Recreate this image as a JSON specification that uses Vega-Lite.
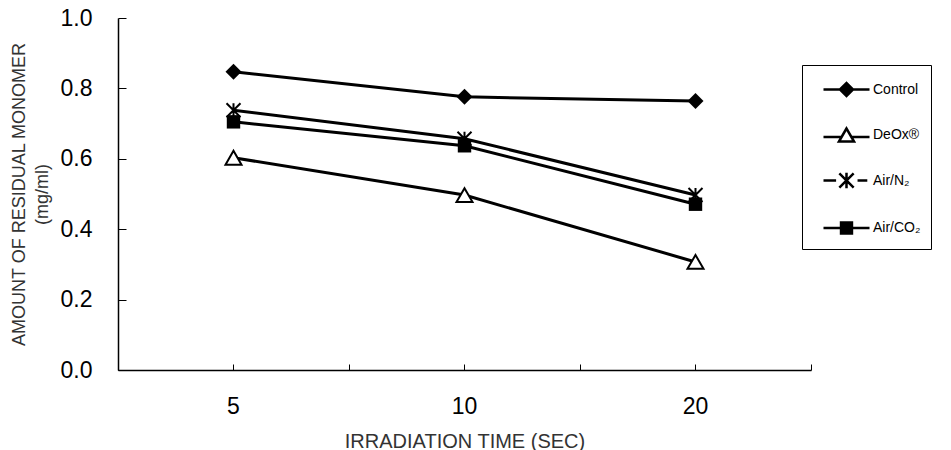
{
  "$schema": "https://vega.github.io/schema/vega-lite/v6.json",
  "width": 693,
  "height": 352,
  "autosize": {"type": "none"},
  "padding": {"left": 118, "top": 18, "right": 140, "bottom": 80},
  "background": "white",
  "config": {"view": {"stroke": null}, "font": "Liberation Sans"},
  "data": {
    "values": [
      {"time": 5, "series": "Control", "value": 0.847},
      {"time": 10, "series": "Control", "value": 0.776},
      {"time": 20, "series": "Control", "value": 0.764},
      {"time": 5, "series": "DeOx®", "value": 0.603},
      {"time": 10, "series": "DeOx®", "value": 0.497},
      {"time": 20, "series": "DeOx®", "value": 0.307},
      {"time": 5, "series": "Air/N₂", "value": 0.738},
      {"time": 10, "series": "Air/N₂", "value": 0.657},
      {"time": 20, "series": "Air/N₂", "value": 0.497},
      {"time": 5, "series": "Air/CO₂", "value": 0.705},
      {"time": 10, "series": "Air/CO₂", "value": 0.637},
      {"time": 20, "series": "Air/CO₂", "value": 0.471}
    ]
  },
  "resolve": {"axis": {"x": "independent"}},
  "layer": [
    {
      "mark": {"type": "line", "color": "black", "strokeWidth": 3},
      "encoding": {
        "x": {
          "field": "time", "type": "ordinal", "bandPosition": 0.5,
          "scale": {"type": "band", "paddingInner": 0, "paddingOuter": 0},
          "axis": {
            "orient": "bottom", "title": "IRRADIATION TIME (SEC)", "labelAngle": 0,
            "tickSize": -6, "tickColor": "black", "tickWidth": 1,
            "domainColor": "black", "domainWidth": 1.5,
            "labelFontSize": 23, "labelColor": "black", "labelPadding": 31,
            "titleFontSize": 20, "titleFontWeight": "normal", "titleColor": "#333333", "titlePadding": 13
          }
        },
        "y": {
          "field": "value", "type": "quantitative",
          "scale": {"domain": [0, 1]},
          "axis": {
            "values": [0, 0.2, 0.4, 0.6, 0.8, 1], "format": ".1f", "grid": false,
            "tickSize": -8, "tickColor": "black", "tickWidth": 1,
            "domainColor": "black", "domainWidth": 1.5,
            "labelFontSize": 23, "labelColor": "black", "labelPadding": 34,
            "title": ["AMOUNT OF RESIDUAL MONOMER", "(mg/ml)"],
            "titleFontSize": 18, "titleFontWeight": "normal", "titleColor": "#333333",
            "titleLineHeight": 23, "titlePadding": 9
          }
        },
        "detail": {"field": "series", "type": "nominal"}
      }
    },
    {
      "transform": [{"filter": {"field": "series", "equal": "Control"}}],
      "mark": {"type": "point", "shape": "diamond", "filled": true, "color": "black", "size": 256, "opacity": 1},
      "encoding": {
        "x": {
          "field": "time", "type": "ordinal", "bandPosition": 0.5,
          "axis": {
            "orient": "bottom", "tickBand": "extent", "labels": false, "domain": false,
            "title": null, "tickSize": -6, "tickColor": "black", "tickWidth": 1
          }
        },
        "y": {"field": "value", "type": "quantitative"}
      }
    },
    {
      "transform": [{"filter": {"field": "series", "equal": "Air/CO₂"}}],
      "mark": {"type": "point", "shape": "square", "filled": true, "color": "black", "size": 180, "opacity": 1},
      "encoding": {
        "x": {"field": "time", "type": "ordinal", "bandPosition": 0.5, "axis": null},
        "y": {"field": "value", "type": "quantitative"}
      }
    },
    {
      "transform": [{"filter": {"field": "series", "equal": "DeOx®"}}],
      "mark": {"type": "point", "shape": "triangle-up", "filled": true, "fill": "white", "stroke": "black", "strokeWidth": 2, "size": 256, "opacity": 1},
      "encoding": {
        "x": {"field": "time", "type": "ordinal", "bandPosition": 0.5, "axis": null},
        "y": {"field": "value", "type": "quantitative"}
      }
    },
    {
      "transform": [{"filter": {"field": "series", "equal": "Air/N₂"}}],
      "mark": {"type": "point", "shape": "M-1,-1L1,1M-1,1L1,-1M0,-1L0,1", "filled": false, "stroke": "black", "strokeWidth": 2, "size": 196, "opacity": 1},
      "encoding": {
        "x": {"field": "time", "type": "ordinal", "bandPosition": 0.5, "axis": null},
        "y": {"field": "value", "type": "quantitative"}
      }
    },
    {
      "mark": {"type": "point", "filled": false, "stroke": "black", "strokeWidth": 2.5, "size": 676, "opacity": 0},
      "encoding": {
        "x": {"field": "time", "type": "ordinal", "bandPosition": 0.5, "axis": null},
        "y": {"field": "value", "type": "quantitative"},
        "shape": {
          "field": "series", "type": "nominal",
          "scale": {
            "domain": ["Control", "DeOx®", "Air/N₂", "Air/CO₂"],
            "range": [
              "M-1.77,0H1.77M-0.5,0L0,-0.5L0.5,0L0,0.5ZM-0.05,-0.45H0.05M-0.2,-0.3H0.2M-0.35,-0.15H0.35M-0.35,0.15H0.35M-0.2,0.3H0.2M-0.05,0.45H0.05",
              "M-1.77,0.15H-0.4M0.4,0.15H1.77M0,-0.5L-0.58,0.5L0.58,0.5Z",
              "M-1.77,0H-0.8M0.85,0H1.6M-0.55,-0.55L0.55,0.55M-0.55,0.55L0.55,-0.55M0,-0.6V0.6",
              "M-1.77,0H1.77M-0.42,-0.42H0.42V0.42H-0.42ZM-0.42,-0.28H0.42M-0.42,-0.14H0.42M-0.42,0.14H0.42M-0.42,0.28H0.42"
            ]
          },
          "legend": {
            "orient": "none", "legendX": 684, "legendY": 47,
            "title": null, "direction": "vertical",
            "strokeColor": "black", "fillColor": "white", "padding": 10,
            "symbolSize": 676, "symbolStrokeWidth": 2.5, "symbolStrokeColor": "black",
            "symbolFillColor": "transparent", "symbolOpacity": 1,
            "symbolOffset": 20, "rowPadding": 19.5, "labelOffset": 12,
            "labelFontSize": 14, "labelColor": "black", "labelFont": "Liberation Sans",
            "encode": {
              "labels": {
                "fontSize": {"value": {"expr": "datum.index === 0 ? 16 : 13"}}
              }
            }
          }
        }
      }
    }
  ]
}
